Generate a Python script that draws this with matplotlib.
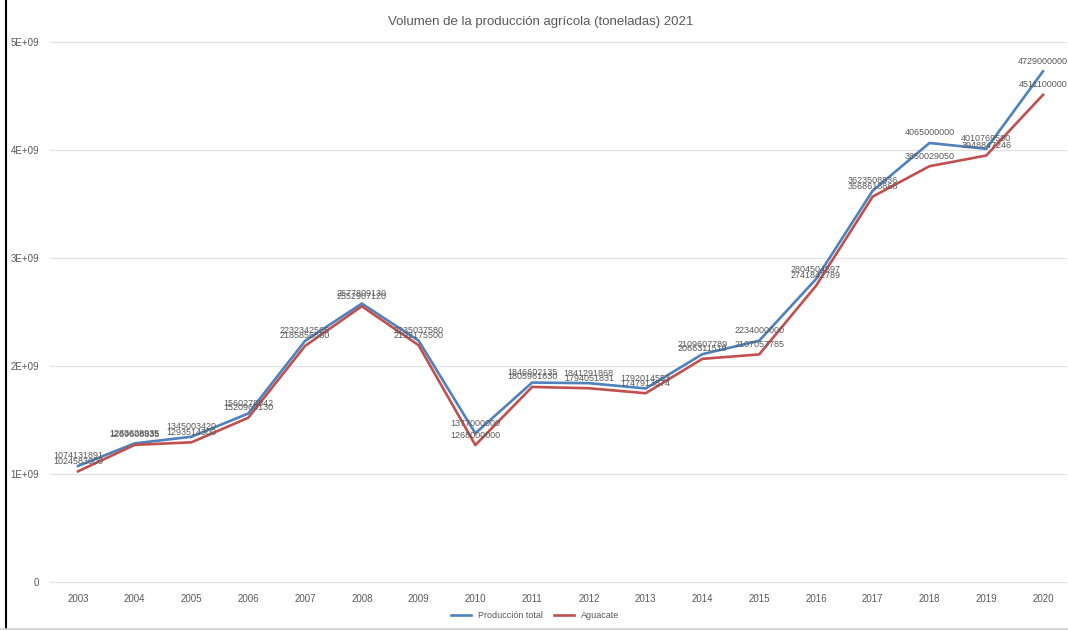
import numpy as np
import matplotlib.pyplot as plt
from matplotlib.ticker import FuncFormatter

plt.rcParams['font.family'] = ['Liberation Sans Narrow', 'Liberation Sans', 'DejaVu Sans']

years = ['2003', '2004', '2005', '2006', '2007', '2008', '2009', '2010', '2011',
         '2012', '2013', '2014', '2015', '2016', '2017', '2018', '2019', '2020']
produccion_total = [1074131891, 1283628935, 1345003420, 1560278842, 2232342565,
                    2577809130, 2235037580, 1377000000, 1846602135, 1841291868,
                    1792014553, 2109607789, 2234000000, 2804504597, 3623508836,
                    4065000000, 4010769580, 4729000000]
aguacate = [1024583000, 1269608835, 1293514300, 1520960130, 2185856560,
            2552907120, 2192175500, 1268000000, 1805961630, 1794051831,
            1747913874, 2066311519, 2107057785, 2741842789, 3568613868,
            3850029050, 3948847246, 4511100000]

fig = plt.figure(figsize=(10.68, 6.3), dpi=100)
ax = fig.add_axes([50 / 1068, 1 - 582 / 630, 1016 / 1068, 540 / 630])

x = np.arange(len(years))
ax.plot(x, produccion_total, color='#4F81BD', lw=1.9, label='Producción total')
ax.plot(x, aguacate, color='#C0504D', lw=1.9, label='Aguacate')

for xi, v in zip(x, produccion_total):
    ax.annotate(str(v), (xi, v), xytext=(0, 4), textcoords='offset points',
                ha='center', va='bottom', fontsize=6.5, color='#595959')
for xi, v in zip(x, aguacate):
    ax.annotate(str(v), (xi, v), xytext=(0, 4), textcoords='offset points',
                ha='center', va='bottom', fontsize=6.5, color='#595959')

ax.set_ylim(0, 5e9)
ax.set_xlim(-0.493, 17.405)
ax.set_yticks(np.arange(0, 5.1e9, 1e9))
ax.yaxis.set_major_formatter(FuncFormatter(lambda v, p: '0' if v == 0 else '%dE+09' % round(v / 1e9)))
ax.set_xticks(x)
ax.set_xticklabels(years)
ax.tick_params(axis='both', length=0, labelsize=7, labelcolor='#595959')
ax.tick_params(axis='x', pad=9)
ax.tick_params(axis='y', pad=8)
ax.grid(axis='y', color='#E3E3E3', lw=0.9)
ax.set_axisbelow(True)
for gl in ax.get_ygridlines():
    gl.set_clip_on(False)
for s in ax.spines.values():
    s.set_visible(False)

fig.text(0.506, 1 - 22 / 630, 'Volumen de la producción agrícola (toneladas) 2021',
         ha='center', va='center', fontsize=9.5, color='#595959')

ax.legend(loc='center', bbox_to_anchor=(535 / 1068, 1 - 616 / 630),
          bbox_transform=fig.transFigure, ncol=2, frameon=False, fontsize=6.5,
          handlelength=2.2, columnspacing=1.2, labelcolor='#595959')

# screenshot border
fig.add_artist(plt.Line2D([6 / 1068, 6 / 1068], [0, 1], color='black', lw=1.5))
fig.add_artist(plt.Line2D([0, 1], [1.5 / 630, 1.5 / 630], color='#D0D0D0', lw=1.2))

fig.savefig('out.png', dpi=100)
